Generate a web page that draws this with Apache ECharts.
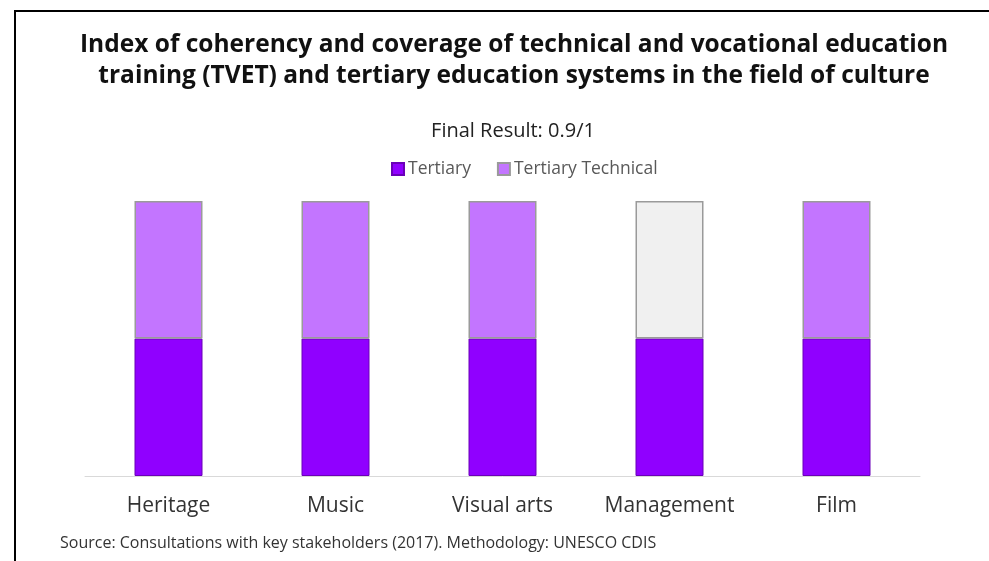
<!DOCTYPE html>
<html>
<head>
    <meta charset="UTF-8"/>
    <script type="text/javascript" src="https://cdn.jsdelivr.net/npm/echarts@6/dist/echarts.min.js"></script>
    <title>TVET coherency index</title>
    <style>
        html, body { margin: 0; padding: 0; background: #fff; }
        #main { width: 989px; height: 561px; }
    </style>
</head>
<body>
<div id="main"></div>
<script type="text/javascript">
    var categories = ['Heritage', 'Music', 'Visual arts', 'Management', 'Film']
    var tertiary = [0.5, 0.5, 0.5, 0.5, 0.5]
    var tertiaryTechnical = [0.5, 0.5, 0.5, null, 0.5]
    // part of the scale that is not covered (grey box on Management)
    var notCovered = [null, null, null, 0.5, null]

    var myChart = echarts.init(document.getElementById('main'))

    var option = {
        animation: false,
        textStyle: {fontFamily: 'Open Sans'},
        title: [
            {
                text: 'Index of coherency and coverage of technical and vocational education\ntraining (TVET) and tertiary education systems in the field of culture',
                left: 509, top: 25, textAlign: 'center',
                textStyle: {fontSize: 24.5, fontWeight: 'bold', color: '#111', lineHeight: 31, fontFamily: 'Open Sans'}
            },
            {
                text: 'Final Result: 0.9/1',
                left: 508, top: 116, textAlign: 'center',
                textStyle: {fontSize: 20, fontWeight: 'normal', color: '#222', fontFamily: 'Open Sans'}
            },
            {
                text: 'Source: Consultations with key stakeholders (2017). Methodology: UNESCO CDIS',
                left: 55, top: 530,
                textStyle: {fontSize: 16, fontWeight: 'normal', color: '#333', fontFamily: 'Open Sans'}
            }
        ],
        legend: {
            data: ['Tertiary', 'Tertiary Technical'],
            left: 386, top: 155,
            itemWidth: 12, itemHeight: 12, itemGap: 26,
            icon: 'rect',
            textStyle: {fontSize: 17.5, color: '#595959', padding: [0, 0, 0, -1]}
        },
        grid: {left: 85, right: 69, top: 201, bottom: 85},
        xAxis: {
            type: 'category',
            data: categories,
            axisLine: {lineStyle: {color: '#d9d9d9', width: 1}},
            axisTick: {show: false},
            axisLabel: {fontSize: 21, color: '#333', margin: 20, interval: 0, hideOverlap: false}
        },
        yAxis: {
            type: 'value', min: 0, max: 1,
            show: false,
            splitLine: {show: false}
        },
        series: [
            {
                name: 'Tertiary', type: 'bar', stack: 'total', barWidth: 68,
                data: tertiary,
                itemStyle: {color: '#9000ff', borderColor: '#6a00b8', borderWidth: 1}
            },
            {
                name: 'Tertiary Technical', type: 'bar', stack: 'total', barWidth: 68,
                data: tertiaryTechnical,
                itemStyle: {color: '#c375ff', borderColor: '#9a9a9a', borderWidth: 1.5}
            },
            {
                name: 'Not covered', type: 'bar', stack: 'total', barWidth: 68,
                data: notCovered,
                itemStyle: {color: '#f0f0f0', borderColor: '#9a9a9a', borderWidth: 1.5}
            }
        ],
        graphic: [
            {
                type: 'polyline',
                shape: {points: [[15, 561], [15, 11], [989, 11]]},
                style: {stroke: '#000', lineWidth: 2, fill: null}
            }
        ]
    }

    myChart.setOption(option)
</script>
</body>
</html>
